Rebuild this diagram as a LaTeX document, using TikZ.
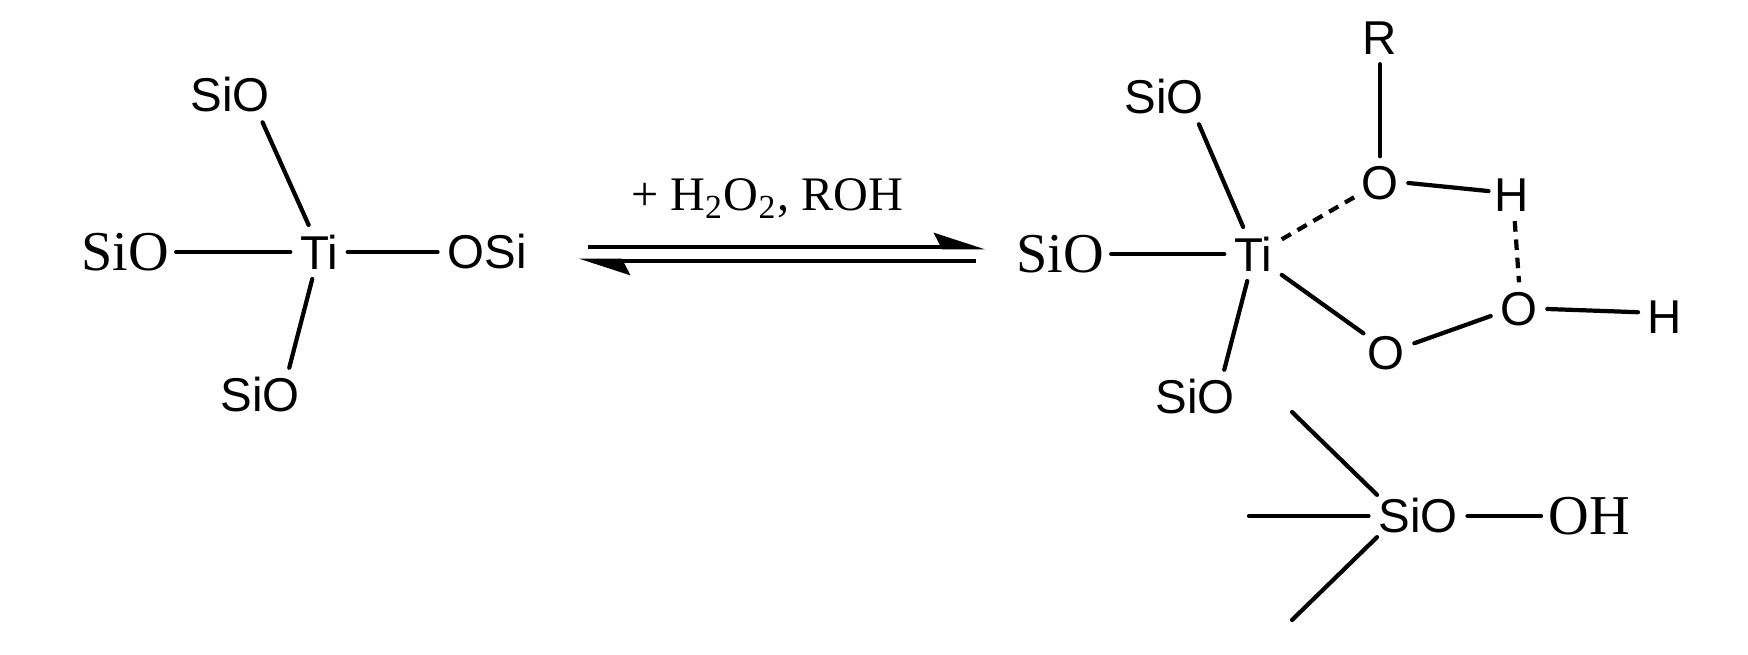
\documentclass[tikz,border=0pt]{standalone}
\usepackage{fontspec}
\setmainfont{Liberation Serif}
\setsansfont{Liberation Sans}
\usetikzlibrary{arrows.meta}

\begin{document}
\begin{tikzpicture}[x = 0.01cm, y = -0.01cm,
	atom/.style = {inner sep = 2.6pt, font = \sffamily\fontsize{13.5}{15}\selectfont},
	serif/.style = {inner sep = 1.9pt, font = \rmfamily\fontsize{16}{18}\selectfont},
	bond/.style = {line width = 1.2pt, line cap = round},
	hbond/.style = {bond, line cap = butt, dash pattern = on 3pt off 2.2pt},
	eqline/.style = {line width = 1.3pt}]
	\useasboundingbox (0, 0) rectangle (1748, 655);
	\node[atom]  (siotop)  at (230, 95)    {SiO};
	\node[serif] (sioleft) at (125, 252)   {SiO};
	\node[atom]  (ti)      at (319, 252)   {Ti};
	\node[atom]  (osi)     at (487, 252)   {OSi};
	\node[atom]  (siobot)  at (260, 395)   {SiO};
	\draw[bond] (siotop.-40)  -- (ti.111);
	\draw[bond] (sioleft.east) -- (ti.west);
	\draw[bond] (ti.east)     -- (osi.west);
	\draw[bond] (ti.-104)     -- (siobot.43);
	\coordinate (eqa) at (588, 247);
	\coordinate (eqb) at (985, 247);
	\coordinate (eqc) at (976, 261);
	\coordinate (eqd) at (579, 261);
	\draw[eqline, -{Stealth[left, length = 12.5pt, width = 8pt, inset = 2pt]}] (eqa) -- (eqb);
	\draw[eqline, -{Stealth[left, length = 12.5pt, width = 8pt, inset = 2pt]}] (eqc) -- (eqd);
	\node[anchor = base, font = \rmfamily\fontsize{13.7}{16}\selectfont] (reagent) at (767, 211) {+ H\textsubscript{2}O\textsubscript{2}, ROH};
	\node[atom]  (r)        at (1380, 38)    {R};
	\node[atom]  (siotopb)  at (1164, 97)    {SiO};
	\node[serif] (sioleftb) at (1060, 254)   {SiO};
	\node[atom]  (tib)      at (1253, 254)   {Ti};
	\node[atom]  (siobotb)  at (1195, 397)   {SiO};
	\node[atom]  (oa)       at (1380, 183)   {O};
	\node[atom]  (ha)       at (1512, 195)   {H};
	\node[atom]  (ob)       at (1386, 353)   {O};
	\node[atom]  (oc)       at (1519, 309)   {O};
	\node[atom]  (hb)       at (1665, 317)   {H};
	\node[atom]  (si)       at (1418, 516)   {SiO};
	\node[serif] (oh)       at (1589, 516)   {OH};
	\coordinate (siua) at (1292, 412);
	\coordinate (siub) at (1249, 516);
	\coordinate (siuc) at (1292, 620);
	\draw[bond] (r.south)       -- (oa.north);
	\draw[bond] (siotopb.-38)   -- (tib.110);
	\draw[bond] (sioleftb.east) -- (tib.west);
	\draw[bond] (tib.-102)      -- (siobotb.43);
	\draw[hbond, shorten >= -1.5pt] (tib.27) -- (oa.209);
	\draw[bond, shorten >= -1pt] (oa.east) -- (ha.171);
	\draw[hbond] (ha.-84)       -- (oc.north);
	\draw[bond, shorten >= -2pt] (tib.-36) -- (ob.140);
	\draw[bond] (ob.19)         -- (oc.194);
	\draw[bond] (oc.east)       -- (hb.170);
	\draw[bond, shorten >= -2.5pt] (siua) -- (si.150);
	\draw[bond] (siub) -- (si.west);
	\draw[bond, shorten >= -2.5pt] (siuc) -- (si.210);
	\draw[bond] (si.east) -- (oh.west);
\end{tikzpicture}
\end{document}
